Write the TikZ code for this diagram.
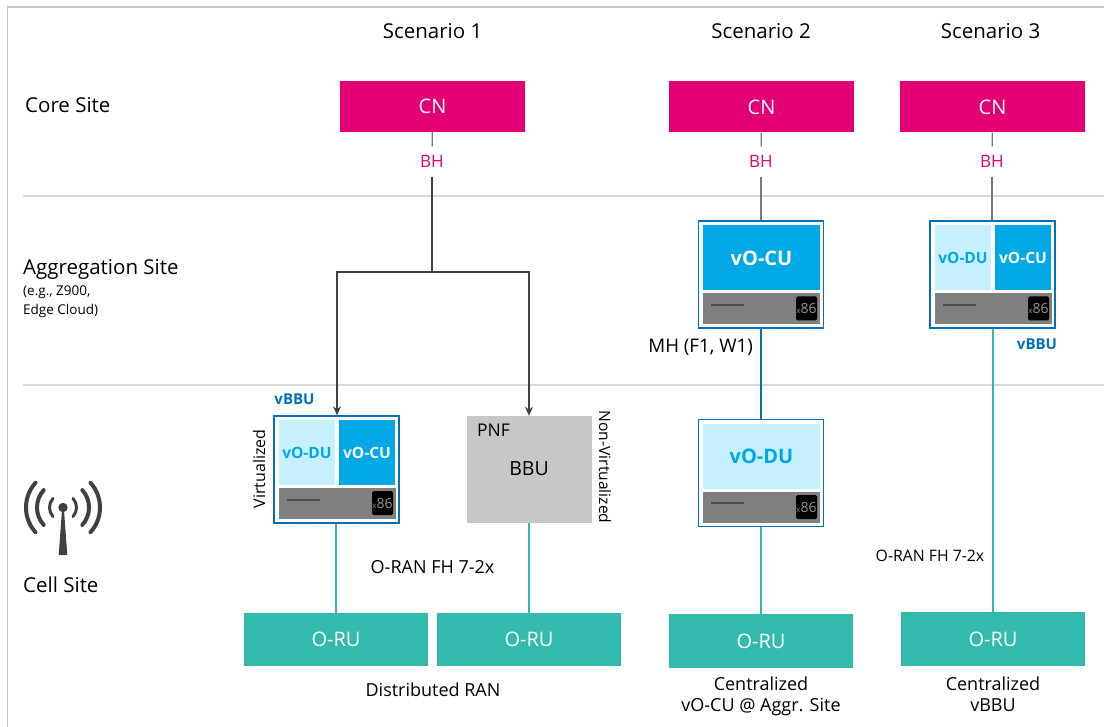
\documentclass[tikz,border=0pt]{standalone}
\usepackage{fontspec}
\setmainfont{Open Sans}
\usetikzlibrary{arrows.meta}
\definecolor{cnpink}{RGB}{226,0,116}
\definecolor{rugreen}{RGB}{51,186,174}
\definecolor{boxblue}{RGB}{0,112,192}
\definecolor{cublue}{RGB}{0,169,230}
\definecolor{dublue}{RGB}{198,239,255}
\definecolor{srvgray}{RGB}{128,128,128}
\definecolor{bbugray}{RGB}{199,199,199}
\definecolor{rulegray}{RGB}{217,217,217}
\definecolor{linkgray}{RGB}{64,64,64}
\newcommand{\fs}[1]{\fontsize{#1}{\dimexpr #1pt*7/6\relax}\selectfont}
\tikzset{
    blk/.style n args = {2}{shape=rectangle, inner sep=0pt, minimum width=#1, minimum height=#2},
    cnbox/.style = {blk={185pt}{51pt}, fill=cnpink, text=white, font=\fs{20}},
    rubox/.style = {blk={184pt}{53pt}, fill=rugreen, text=white, font=\fs{20}},
    vbox/.style = {blk={125pt}{107pt}, draw=boxblue, line width=1.6pt, fill=white},
    dubox/.style = {fill=dublue, text=cublue, font=\fs{15.5}\bfseries, inner sep=0pt},
    cubox/.style = {fill=cublue, text=white, font=\fs{15.5}\bfseries, inner sep=0pt},
    srvbox/.style = {blk={117pt}{31pt}, fill=srvgray},
    chip/.style = {blk={21pt}{24pt}, fill=black, rounded corners=1.5pt, text=srvgray!85!white, font=\fs{14}},
    srvline/.style = {draw=linkgray!80!srvgray, line width=2pt},
    lbl/.style = {inner sep=0pt, font=\fs{20.5}},
    small/.style = {inner sep=0pt, font=\fs{18}},
    bluelbl/.style = {inner sep=0pt, font=\fs{15}\bfseries, text=boxblue},
    bhlbl/.style = {blk={30pt}{30pt}, font=\fs{17}, text=cnpink},
    uplink/.style = {draw=linkgray!70!white, line width=1.3pt},
    arrlink/.style = {draw=linkgray, line width=1.3pt, -{Stealth[length=9pt,width=8pt]}},
    fhlink/.style = {draw=rugreen, line width=2pt},
    mhlink/.style = {draw=boxblue, line width=2pt}
}
\begin{document}
\begin{tikzpicture}[x=1pt, y=-1pt]
\useasboundingbox (0,0) rectangle (1104,727);
% frame and site rows
\draw[bbugray, line width=1.5pt] (7.5,727) -- (7.5,7) -- (1104,7);
\draw[rulegray, line width=1.2pt] (23,196) -- (1104,196);
\draw[rulegray, line width=1.2pt] (23,385) -- (1104,385);
% headings
\node[lbl] (s1) at (432.5,31) {Scenario 1};
\node[lbl] (s2) at (761,31) {Scenario 2};
\node[lbl] (s3) at (990.5,31) {Scenario 3};
\node[lbl, anchor=west] (core) at (25,105) {Core Site};
\node[lbl, anchor=west] (aggr) at (23,269) {Aggregation Site};
\node[anchor=north west, inner sep=0pt, align=left, font=\fs{13.5}] (aggrnote) at (23,286) {(e.g., Z900,\\[3pt]Edge Cloud)};
\node[lbl, anchor=west] (cell) at (23,585) {Cell Site};
% core network
\node[cnbox] (cn1) at (432.5,106.5) {CN};
\node[cnbox] (cn2) at (761.5,107) {CN};
\node[cnbox] (cn3) at (992.5,107) {CN};
\node[bhlbl] (bh1) at (432,161.5) {BH};
\node[bhlbl] (bh2) at (761,161.5) {BH};
\node[bhlbl] (bh3) at (992,161.5) {BH};
% scenario 1
\node[vbox] (vbbu1) at (336.5,469.5) {};
\node[dubox, minimum width=56pt, minimum height=65pt] (du1) at (307,452.5) {vO-DU};
\node[cubox, minimum width=56pt, minimum height=65pt] (cu1) at (367,452.5) {vO-CU};
\node[srvbox] (srv1) at (337.5,503.5) {};
\node[chip] (chip1) at (382.5,503) {\fs{8}x\fs{14}86};
\draw[srvline] (287,499.5) -- (320,499.5);
\node[bluelbl] (vbbu1l) at (294.5,399.5) {vBBU};
\node[small, rotate=90, font=\fs{16}] (virt) at (259,469) {Virtualized};
\node[blk={125pt}{107pt}, fill=bbugray] (bbu) at (529.5,469.5) {};
\node[lbl, font=\fs{19.5}] (bbul) at (529,469) {BBU};
\node[small, anchor=west, font=\fs{17.5}] (pnf) at (477,430) {PNF};
\node[small, rotate=-90, font=\fs{15.6}] (nonvirt) at (605,467) {Non-Virtualized};
\node[rubox] (ru1) at (336,639.5) {O-RU};
\node[rubox] (ru2) at (529,639.5) {O-RU};
\node[small] (fh1) at (432.5,567) {O-RAN FH 7-2x};
\node[small] (ran1) at (433,690) {Distributed RAN};
\coordinate (split) at (432,272);
\coordinate (splitl) at (337,272);
\coordinate (splitr) at (529,272);
\draw[uplink] (cn1) -- (bh1);
\draw[arrlink, -] (bh1) -- (split);
\draw[arrlink] (split) -- (splitl) -- (vbbu1.north -| splitl);
\draw[arrlink] (split) -- (splitr) -- (bbu.north -| splitr);
\draw[fhlink] (vbbu1.south -| ru1) -- (ru1);
\draw[fhlink] (bbu.south -| ru2) -- (ru2);
% scenario 2
\node[vbox] (vcu2) at (761,274.5) {};
\node[cubox, minimum width=117pt, minimum height=65pt] (cu2) at (761.5,258) {\fs{20}vO-CU};
\node[srvbox] (srv2) at (761.5,309) {};
\node[chip] (chip2) at (806.5,308.5) {\fs{8}x\fs{14}86};
\draw[srvline] (711,305) -- (744,305);
\node[small, anchor=east, font=\fs{18.7}] (mh) at (753,347) {MH (F1, W1)};
\node[vbox] (vdu2) at (761,473) {};
\node[dubox, minimum width=117pt, minimum height=65pt] (du2) at (761.5,456.5) {\fs{20}vO-DU};
\node[srvbox] (srv3) at (761.5,507.5) {};
\node[chip] (chip3) at (806.5,507) {\fs{8}x\fs{14}86};
\draw[srvline] (711,503) -- (744,503);
\node[rubox, minimum height=54pt] (ru3) at (761,641) {O-RU};
\node[small, align=center] (ran2) at (761,696) {Centralized\\vO-CU @ Aggr. Site};
\draw[uplink] (cn2) -- (bh2);
\draw[uplink] (bh2) -- (vcu2.north -| bh2);
\draw[mhlink] (vcu2) -- (vdu2);
\draw[fhlink] (vdu2) -- (ru3);
% scenario 3
\node[vbox] (vbbu3) at (992.5,274.5) {};
\node[dubox, minimum width=56pt, minimum height=65pt] (du3) at (963,257.5) {vO-DU};
\node[cubox, minimum width=56pt, minimum height=65pt] (cu3) at (1023,257.5) {vO-CU};
\node[srvbox] (srv4) at (993.5,309) {};
\node[chip] (chip4) at (1038.5,308.5) {\fs{8}x\fs{14}86};
\draw[srvline] (943,305) -- (976,305);
\node[bluelbl] (vbbu3l) at (1037,344.5) {vBBU};
\node[small, font=\fs{15.8}] (fh2) at (930,556) {O-RAN FH 7-2x};
\node[rubox, minimum height=54pt] (ru4) at (993,639) {O-RU};
\node[small, align=center] (ran3) at (993,694) {Centralized\\vBBU};
\draw[uplink] (cn3) -- (bh3);
\draw[uplink] (bh3) -- (vbbu3.north -| bh3);
\draw[fhlink] (vbbu3.south -| ru4) -- (ru4);
% antenna
\fill[linkgray] (58.7,555) -- (62,510) -- (64,510) -- (67.3,555) -- cycle;
\fill[linkgray] (63,507.5) circle (4.7);
\foreach \r/\w in {13.5/3, 26/4, 37/4} {
  \draw[linkgray, line width=\w pt, line cap=round] (63,507.5) ++(-42:\r) arc (-42:42:\r);
  \draw[linkgray, line width=\w pt, line cap=round] (63,507.5) ++(138:\r) arc (138:222:\r);
}
\end{tikzpicture}
\end{document}
